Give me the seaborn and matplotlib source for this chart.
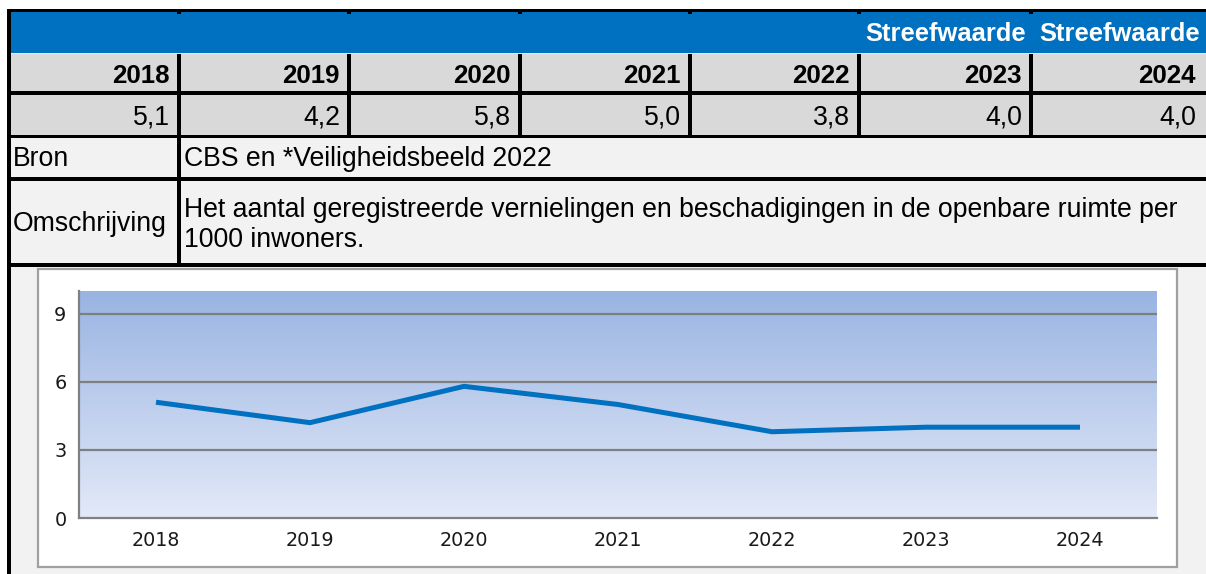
import numpy as np
import pandas as pd
import matplotlib
matplotlib.use('Agg')
import matplotlib.pyplot as plt
from matplotlib.patches import Rectangle
from matplotlib.colors import LinearSegmentedColormap
import seaborn as sns

# data
years = ['2018', '2019', '2020', '2021', '2022', '2023', '2024']
values = [5.1, 4.2, 5.8, 5.0, 3.8, 4.0, 4.0]
target_cols = ['2023', '2024']
target_label = 'Streefwaarde'
bron_label = 'Bron'
bron_text = 'CBS en *Veiligheidsbeeld 2022'
omschr_label = 'Omschrijving'
omschr_text = ['Het aantal geregistreerde vernielingen en beschadigingen in de openbare ruimte per',
               '1000 inwoners.']
y_ticks = [0, 3, 6, 9]

sns.set_theme(style='white')
plt.rcParams['font.family'] = ['Liberation Sans', 'DejaVu Sans']

W, H = 1206, 574
fig = plt.figure(figsize=(W / 100, H / 100), dpi=100)

# table drawn in pixel coordinates
bg = fig.add_axes([0, 0, 1, 1])
bg.set_xlim(0, W)
bg.set_ylim(H, 0)
bg.axis('off')

def rect(x0, y0, x1, y1, color, z=1):
    bg.add_patch(Rectangle((x0, y0), x1 - x0, y1 - y0, facecolor=color, edgecolor='none', zorder=z))

blue = '#0070c0'
cell_grey = '#d9d9d9'
light = '#f2f2f2'

rect(11, 12, W, 53, blue)
rect(11, 53, W, 54, '#e8e8e8')
rect(11, 54, W, 91, cell_grey)
rect(11, 95, W, 135, cell_grey)
rect(11, 138, W, 177, light)
rect(11, 181, W, 263, light)
rect(11, 267, W, H, light)

# black borders
for y0, y1 in [(9, 12), (91, 95), (135, 138), (177, 181), (263, 267)]:
    rect(7, y0, W, y1, 'black', 3)
rect(7, 9, 11, H, 'black', 3)

dividers = [179, 349, 520, 690, 859, 1031]
col_right = [d - 2 for d in dividers] + [1203]
for d in dividers:
    rect(d - 2, 54, d + 2, 135, 'black', 3)
    rect(d - 2, 12, d + 2, 14, 'black', 3)
rect(177, 138, 181, 263, 'black', 3)

fs = 19.2
fs_bold = 18.6
for yr, v, xr in zip(years, values, col_right):
    bg.text(xr - 7, 83, yr, ha='right', va='baseline', fontsize=fs_bold, fontweight='bold', color='black', zorder=4)
    bg.text(xr - 7, 124, f'{v:.1f}'.replace('.', ','), ha='right', va='baseline', fontsize=fs, color='black', zorder=4)

# header text over the two target columns
bg.text(865, 41, target_label, ha='left', va='baseline', fontsize=18.4, fontweight='bold', color='white', zorder=4)
bg.text(1200, 41, target_label, ha='right', va='baseline', fontsize=18.4, fontweight='bold', color='white', zorder=4)

bg.text(13, 166, bron_label, ha='left', va='baseline', fontsize=fs, color='black', zorder=4)
bg.text(184, 166, bron_text, ha='left', va='baseline', fontsize=fs, color='black', zorder=4)
bg.text(13, 231, omschr_label, ha='left', va='baseline', fontsize=fs, color='black', zorder=4)
bg.text(184, 217, omschr_text[0], ha='left', va='baseline', fontsize=fs, color='black', zorder=4)
bg.text(184, 247, omschr_text[1], ha='left', va='baseline', fontsize=fs, color='black', zorder=4)

# chart frame
bg.add_patch(Rectangle((38, 269), 1177 - 38, 567 - 269, facecolor='white',
                       edgecolor='#a0a0a0', linewidth=1.6, zorder=2))

# chart
px0, px1, py0, py1 = 79, 1157, 291, 518
ax = fig.add_axes([px0 / W, 1 - py1 / H, (px1 - px0) / W, (py1 - py0) / H])
ax.set_xlim(-0.5, len(years) - 0.5)
ax.set_ylim(0, 10)

cmap = LinearSegmentedColormap.from_list('bgfade', ['#e3e9f8', '#99b4e2'])
grad = np.linspace(0, 1, 256).reshape(-1, 1)
ax.imshow(grad, extent=(-0.5, len(years) - 0.5, 0, 10), origin='lower', aspect='auto',
          cmap=cmap, zorder=0)

for t in y_ticks[1:]:
    ax.axhline(t, color='#7f7f7f', linewidth=1.6, zorder=1)

df = pd.DataFrame({'pos': np.arange(len(years)), 'value': values})
sns.lineplot(data=df, x='pos', y='value', color=blue, linewidth=3.6, ax=ax, zorder=3,
             solid_capstyle='butt', solid_joinstyle='miter')

ax.set_xticks(np.arange(len(years)))
ax.set_xticklabels(years)
ax.set_yticks(y_ticks)
ax.set_xlabel('')
ax.set_ylabel('')
ax.tick_params(length=0, pad=9, labelsize=13.8, colors='#1a1a1a')
for lbl in ax.get_xticklabels() + ax.get_yticklabels():
    lbl.set_family('DejaVu Sans')
for s in ['top', 'right']:
    ax.spines[s].set_visible(False)
for s in ['left', 'bottom']:
    ax.spines[s].set_color('#808080')
    ax.spines[s].set_linewidth(1.6)
ax.set_facecolor('none')

fig.savefig('out.png', dpi=100)
